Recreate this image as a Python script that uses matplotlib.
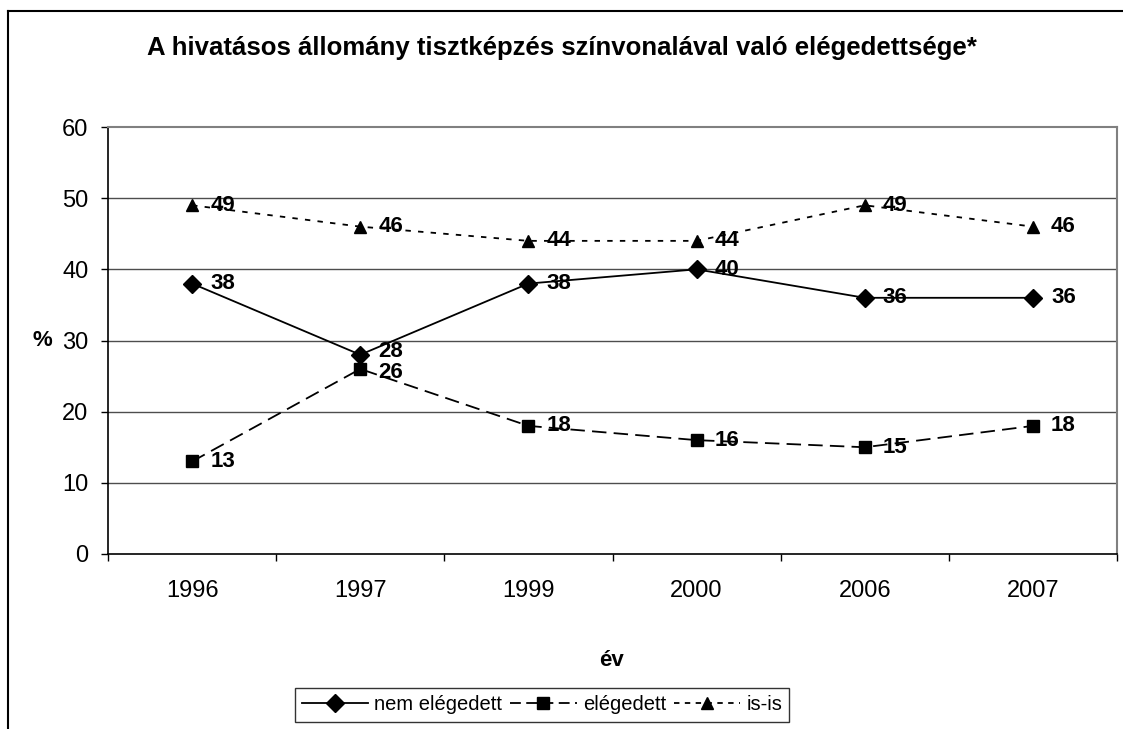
import matplotlib.pyplot as plt
import numpy as np
from matplotlib.lines import Line2D

plt.rcParams['font.family'] = ['Liberation Sans', 'DejaVu Sans']

# data
years = ['1996', '1997', '1999', '2000', '2006', '2007']
nem_elegedett = [38, 28, 38, 40, 36, 36]
elegedett = [13, 26, 18, 16, 15, 18]
is_is = [49, 46, 44, 44, 49, 46]

x = np.arange(len(years))

fig = plt.figure(figsize=(11.23, 7.29), dpi=100)
ax = fig.add_axes([108/1123, 1-554/729, (1117-108)/1123, (554-127)/729])

# gridlines
for v in [10, 20, 30, 40, 50]:
    ax.axhline(v, color='#4d4d4d', lw=1.0, zorder=1)

ax.plot(x, nem_elegedett, color='black', lw=1.3, ls='-', marker='D', ms=9,
        label='nem elégedett', zorder=3)
ax.plot(x, elegedett, color='black', lw=1.3, ls=(0, (8, 4)), marker='s', ms=8,
        label='elégedett', zorder=3)
ax.plot(x, is_is, color='black', lw=1.3, ls=(0, (3, 4)), marker='^', ms=9,
        label='is-is', zorder=3)

# value labels (28 / 26 in 1997 nudged apart a little)
nudge = {(0, 1): 2.5, (1, 1): -2.5}
for si, series in enumerate([nem_elegedett, elegedett, is_is]):
    for xi, v in zip(x, series):
        dy = nudge.get((si, xi), 0)
        ax.annotate(str(v), (xi, v), xytext=(13, dy), textcoords='offset points',
                    ha='left', va='center', fontsize=16, fontweight='bold', zorder=4)

ax.set_xlim(-0.5, 5.5)
ax.set_ylim(0, 60)
ax.set_yticks(range(0, 61, 10))
ax.tick_params(axis='y', direction='out', length=5, width=1, pad=9, labelsize=17)

# category ticks at boundaries, labels at centers
ax.set_xticks(np.arange(-0.5, 6, 1))
ax.set_xticklabels([])
ax.set_xticks(x, minor=True)
ax.set_xticklabels(years, minor=True)
ax.tick_params(axis='x', which='major', direction='out', length=5, width=1)
ax.tick_params(axis='x', which='minor', length=0, pad=19, labelsize=17)

for s in ['left', 'bottom']:
    ax.spines[s].set_color('black')
    ax.spines[s].set_linewidth(1.2)
for s in ['top', 'right']:
    ax.spines[s].set_color('#808080')
    ax.spines[s].set_linewidth(1.5)

fig.text(612/1123, 1-661/729, 'év', fontsize=16, fontweight='bold', ha='center', va='center')
fig.text(42/1123, 1-341/729, '%', fontsize=16, fontweight='bold', ha='center', va='center')

fig.text(562/1123, 1-48/729,
         'A hivatásos állomány tisztképzés színvonalával való elégedettsége*',
         fontsize=18.5, fontweight='bold', ha='center', va='center')

handles = [
    Line2D([], [], color='black', lw=1.3, ls='-', marker='D', ms=9),
    Line2D([], [], color='black', lw=1.3, ls=(0, (6, 3)), marker='s', ms=8),
    Line2D([], [], color='black', lw=1.3, ls=(0, (3, 3)), marker='^', ms=9),
]
leg = fig.legend(handles, ['nem elégedett', 'elégedett', 'is-is'], loc='center',
                 bbox_to_anchor=(542/1123, 1-705/729), ncol=3,
                 fontsize=14.5, frameon=True, fancybox=False, handlelength=3.3,
                 columnspacing=0.4, handletextpad=0.3, borderpad=0.35)
leg.get_frame().set_edgecolor('black')
leg.get_frame().set_linewidth(1.0)

# outer chart border (cut off on right and bottom)
fig.add_artist(Line2D([8/1123, 8/1123], [0, 1-11/729], color='black', lw=1.5,
                      transform=fig.transFigure))
fig.add_artist(Line2D([8/1123, 1], [1-11/729, 1-11/729], color='black', lw=1.5,
                      transform=fig.transFigure))

fig.savefig('out.png', dpi=100)
